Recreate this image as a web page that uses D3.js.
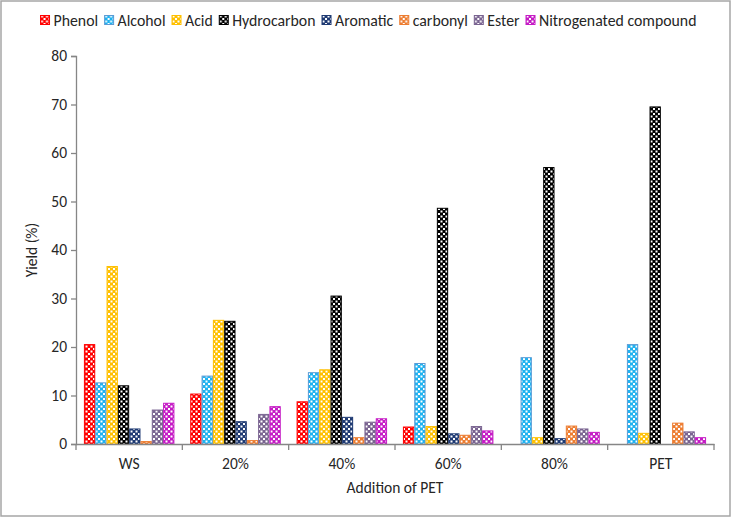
<!DOCTYPE html>
<html><head><meta charset="utf-8">
<script src="https://cdn.jsdelivr.net/npm/d3@7"></script>
<style>body{margin:0;background:#fff;} text{font-family:Calibri,Carlito,Lato,"Liberation Sans",Arial,sans-serif;}</style>
</head><body>
<svg id="c" width="732" height="518"></svg>
<script>
const categories = ["WS","20%","40%","60%","80%","PET"];
const seriesNames = ["Phenol","Alcohol","Acid","Hydrocarbon","Aromatic","carbonyl","Ester","Nitrogenated compound"];
const phenol      = [20.5, 10.3,  8.7,  3.5,  0.0,  0.0];
const alcohol     = [12.6, 14.0, 14.7, 16.6, 17.8, 20.5];
const acid        = [36.6, 25.5, 15.3,  3.6,  1.3,  2.2];
const hydrocarbon = [12.0, 25.3, 30.5, 48.6, 57.0, 69.5];
const aromatic    = [ 3.1,  4.6,  5.5,  2.1,  1.1,  0.0];
const carbonyl    = [ 0.5,  0.7,  1.3,  1.8,  3.7,  4.3];
const ester       = [ 7.0,  6.1,  4.5,  3.6,  3.1,  2.5];
const nitrogenated= [ 8.4,  7.7,  5.2,  2.7,  2.4,  1.3];
const yTicks = [0,10,20,30,40,50,60,70,80];

const seriesValues = [phenol, alcohol, acid, hydrocarbon, aromatic, carbonyl, ester, nitrogenated];
const colors  = ["#FF0000","#1FB2F0","#FFC000","#000000","#1F3A73","#ED7D31","#7A6491","#C51BC5"];
const strokes = ["#FF0000","#5B9BD5","#FFC000","#000000","#1F3A73","#ED7D31","#7A6491","#C51BC5"];

const svg = d3.select("#c");
svg.append("rect").attr("x",1).attr("y",1).attr("width",729).attr("height",515)
  .attr("fill","#fff").attr("stroke","#A6A6A6").attr("stroke-width",1.5);

const defs = svg.append("defs");
colors.forEach((c,i)=>{
  const p = defs.append("pattern").attr("id","pat"+i).attr("patternUnits","userSpaceOnUse")
    .attr("width",5).attr("height",5);
  p.append("rect").attr("width",5).attr("height",5).attr("fill",c);
  p.append("rect").attr("x",0.5).attr("y",0.5).attr("width",2).attr("height",2).attr("fill","#fff");
  p.append("rect").attr("x",3).attr("y",3).attr("width",2).attr("height",2).attr("fill","#fff");
});

const m = {left:76, right:714, top:56, bottom:444};
const x0 = d3.scaleBand().domain(categories).range([m.left, m.right]).paddingInner(0).paddingOuter(0);
const x1 = d3.scaleBand().domain(d3.range(seriesNames.length)).range([0, x0.bandwidth()]).paddingInner(0).paddingOuter(0.7);
const y = d3.scaleLinear().domain([0,80]).range([m.bottom, m.top]);

const axisColor = "#868686";
const textColor = "#262626";
const fs = "15.5px";

const ya = svg.append("g").attr("transform",`translate(${m.left},0)`)
  .call(d3.axisLeft(y).tickValues(yTicks).tickSize(5).tickPadding(4));
ya.select(".domain").attr("stroke",axisColor).attr("stroke-width",1.3);
ya.selectAll(".tick line").attr("stroke",axisColor).attr("stroke-width",1.3);
ya.selectAll(".tick text").attr("fill",textColor).style("font-size",fs);

seriesValues.forEach((vals,si)=>{
  svg.append("g").selectAll("rect").data(vals.map((v,ci)=>({v,c:categories[ci]})))
    .join("rect")
    .filter(d=>d.v>0)
    .attr("x",d=>x0(d.c)+x1(si)+0.5)
    .attr("width",x1.bandwidth()-1)
    .attr("y",d=>y(d.v))
    .attr("height",d=>y(0)-y(d.v))
    .attr("fill",`url(#pat${si})`)
    .attr("stroke",strokes[si]).attr("stroke-width",1);
});

const xa = svg.append("g").attr("transform",`translate(0,${m.bottom})`)
  .call(d3.axisBottom(x0).tickSize(0).tickPadding(14));
xa.select(".domain").attr("stroke",axisColor).attr("stroke-width",1.5);
xa.selectAll(".tick text").attr("fill",textColor).style("font-size",fs);
const bounds = categories.map(c=>x0(c)).concat([m.right]);
svg.append("g").selectAll("line").data(bounds).join("line")
  .attr("x1",d=>d).attr("x2",d=>d).attr("y1",m.bottom).attr("y2",m.bottom+6)
  .attr("stroke",axisColor).attr("stroke-width",1.3);

svg.append("text").attr("x",(m.left+m.right)/2).attr("y",493).attr("text-anchor","middle")
  .attr("fill",textColor).style("font-size",fs).text("Addition of PET");
svg.append("text").attr("transform",`translate(32,${(m.top+m.bottom)/2}) rotate(-90)`)
  .attr("text-anchor","middle").attr("dy","0.35em").attr("fill",textColor).style("font-size",fs).text("Yield (%)");

const lg = svg.append("g");
let cx = 0;
seriesNames.forEach((n,i)=>{
  const g = lg.append("g").attr("transform",`translate(${cx},0)`);
  g.append("rect").attr("x",0).attr("y",-4.5).attr("width",9).attr("height",9)
    .attr("fill",`url(#pat${i})`).attr("stroke",strokes[i]).attr("stroke-width",1);
  const t = g.append("text").attr("x",13).attr("y",0).attr("dy","0.35em")
    .attr("fill","#262626").style("font-size","15.8px").text(n);
  cx += 13 + t.node().getComputedTextLength() + 6.5;
});
const total = cx - 6.5;
lg.attr("transform",`translate(${43 + (651 - total)/2},20)`);
</script>
</body></html>
